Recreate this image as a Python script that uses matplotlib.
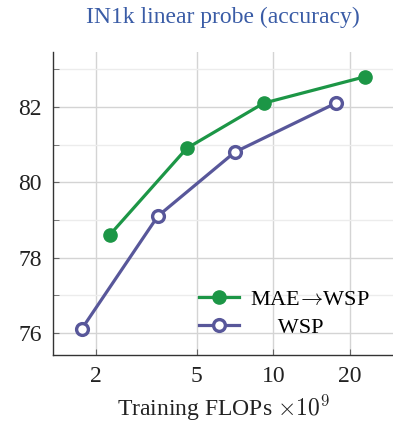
import matplotlib
matplotlib.use("Agg")
import matplotlib.pyplot as plt
from matplotlib.ticker import FixedLocator, FixedFormatter, NullFormatter

# data
flops_mae = [2.27, 4.56, 9.16, 22.9]
acc_mae = [78.6, 80.9, 82.1, 82.8]
flops_wsp = [1.76, 3.51, 7.05, 17.6]
acc_wsp = [76.1, 79.1, 80.8, 82.1]
xticks = [2, 5, 10, 20]
yticks = [76, 78, 80, 82]
yminor = [77, 79, 81, 83]

green = '#1c9646'
purple = '#58579a'

plt.rcParams['font.family'] = ['Liberation Serif', 'DejaVu Serif']
plt.rcParams['mathtext.fontset'] = 'cm'

fig = plt.figure(figsize=(3.93, 4.25), dpi=100)
ax = fig.add_axes([0.135, 0.165, 0.865, 0.713])

ax.plot(flops_mae, acc_mae, '-o', color=green, lw=2.3, ms=9.5,
        label=r'MAE$\!\rightarrow\!$WSP', zorder=3)
ax.plot(flops_wsp, acc_wsp, '-o', color=purple, lw=2.3, ms=8.5, mfc='white', mew=2.4,
        label='     WSP', zorder=3)

ax.set_xscale('log')
ax.set_xlim(1.36, 29.5)
ax.set_ylim(75.42, 83.46)
ax.xaxis.set_major_locator(FixedLocator(xticks))
ax.xaxis.set_major_formatter(FixedFormatter([str(t) for t in xticks]))
ax.xaxis.set_minor_locator(FixedLocator([]))
ax.xaxis.set_minor_formatter(NullFormatter())
ax.set_yticks(yticks)
ax.set_yticks(yminor, minor=True)

ax.grid(True, which='major', color='#d4d4d4', lw=1.0, zorder=0)
ax.grid(True, which='minor', axis='y', color='#ececec', lw=1.0, zorder=0)
ax.tick_params(which='both', direction='in', length=4, color='#666666', labelsize=17,
               labelcolor='#222222', pad=8)
ax.tick_params(axis='x', pad=8)

for s in ['top', 'right']:
    ax.spines[s].set_visible(False)
for s in ['left', 'bottom']:
    ax.spines[s].set_color('#333333')
    ax.spines[s].set_linewidth(1.0)

ax.set_xlabel(r'Training FLOPs $\times10^9$', fontsize=17, labelpad=4, color='#222222')
ax.set_title('IN1k linear probe (accuracy)', color='#3a5ca6', fontsize=17, pad=21)

ax.legend(loc='lower right', frameon=False, fontsize=16, handlelength=1.8,
          bbox_to_anchor=(0.99, -0.01), labelspacing=0.35, handletextpad=0.5)

fig.savefig('out.png', dpi=100)
